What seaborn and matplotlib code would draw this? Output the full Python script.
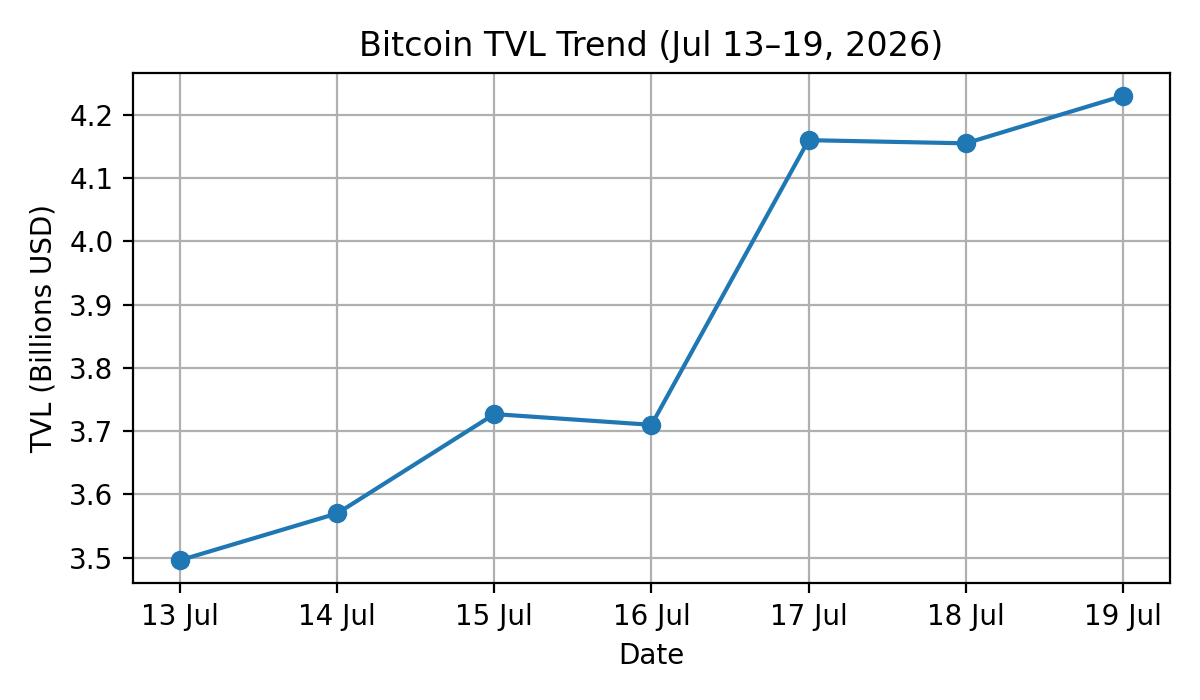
import pandas as pd
import seaborn as sns
import matplotlib.pyplot as plt

# data
dates = ["13 Jul", "14 Jul", "15 Jul", "16 Jul", "17 Jul", "18 Jul", "19 Jul"]
tvl = [3.496, 3.570, 3.727, 3.710, 4.160, 4.155, 4.230]

df = pd.DataFrame({"Date": dates, "TVL": tvl})

fig, ax = plt.subplots(figsize=(6, 3.5), dpi=200)
sns.lineplot(x="Date", y="TVL", data=df, marker="o", color="#1f77b4",
             markersize=6, markeredgecolor="#1f77b4", markeredgewidth=1,
             linewidth=1.5, ax=ax)
ax.set_title("Bitcoin TVL Trend (Jul 13\u201319, 2026)")
ax.set_xlabel("Date")
ax.set_ylabel("TVL (Billions USD)")
ax.grid(True)
plt.tight_layout()
plt.savefig("out.png", dpi=200)
